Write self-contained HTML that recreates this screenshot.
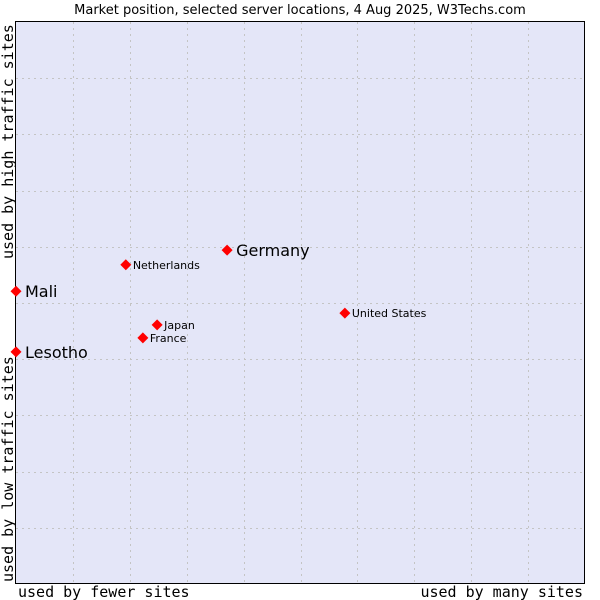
<!DOCTYPE html>
<html><head><meta charset="utf-8"><style>
body{margin:0;background:#fff;width:600px;height:600px;overflow:hidden}
svg{display:block}
</style></head><body>
<svg id="chart" width="600" height="600" xmlns="http://www.w3.org/2000/svg" font-family="DejaVu Sans, Liberation Sans, sans-serif">
<text x="300" y="14" text-anchor="middle" font-size="13" fill="#000">Market position, selected server locations, 4 Aug 2025, W3Techs.com</text>
<rect x="15.5" y="21.5" width="569" height="562" fill="#e4e6f8" stroke="#000" stroke-width="1"/>
<g id="grid"></g>
<g id="points"></g>
<text x="18" y="597" font-family="DejaVu Sans Mono, Liberation Mono, monospace" font-size="15">used by fewer sites</text>
<text x="583" y="597" text-anchor="end" font-family="DejaVu Sans Mono, Liberation Mono, monospace" font-size="15">used by many sites</text>
<text transform="translate(13,582) rotate(-90)" font-family="DejaVu Sans Mono, Liberation Mono, monospace" font-size="15">used by low traffic sites</text>
<text transform="translate(13,259) rotate(-90)" font-family="DejaVu Sans Mono, Liberation Mono, monospace" font-size="15">used by high traffic sites</text>
</svg>
<script>
const countries=["Germany","Netherlands","Mali","United States","Japan","France","Lesotho"];
const xValues=[37.1,19.3,0,57.8,24.8,22.3,0];
const yValues=[59.4,56.8,52.1,48.2,46.1,43.8,41.3];
const bigLabel=[true,false,true,false,false,false,true];
const NS="http://www.w3.org/2000/svg";
const X0=16,X1=585,Y0=584,Y1=22;
const sx=v=>X0+v/100*(X1-X0);
const sy=v=>Y0-v/100*(Y0-Y1);
const grid=document.getElementById('grid');
for(let i=1;i<10;i++){
  const x=Math.round(X0+i*(X1-X0)/10)+0.5;
  const l=document.createElementNS(NS,'line');
  
  
  l.setAttribute('x1',x);l.setAttribute('x2',x);l.setAttribute('y1',Y1);l.setAttribute('y2',Y0);
  l.setAttribute('stroke','#c4c4c4');l.setAttribute('stroke-dasharray','2,4');
  grid.appendChild(l);
  const y=Math.round(Y0-i*(Y0-Y1)/10)+0.5;
  const h=document.createElementNS(NS,'line');
  
  
  h.setAttribute('x1',X0);h.setAttribute('x2',X1);h.setAttribute('y1',y);h.setAttribute('y2',y);
  h.setAttribute('stroke','#c4c4c4');h.setAttribute('stroke-dasharray','2,4');
  grid.appendChild(h);
}
const pts=document.getElementById('points');
countries.forEach((c,i)=>{
  const x=sx(xValues[i]),y=sy(yValues[i]);
  const d=document.createElementNS(NS,'path');
  
  
  d.setAttribute('d',`M${x-5.5},${y}L${x},${y-5.5}L${x+5.5},${y}L${x},${y+5.5}Z`);
  d.setAttribute('fill','#ff0000');
  pts.appendChild(d);
  const t=document.createElementNS(NS,'text');
  
  
  t.setAttribute('x',x+(bigLabel[i]?9:7));
  t.setAttribute('y',y+(bigLabel[i]?6:4));
  t.setAttribute('font-size',bigLabel[i]?16:11);
  t.textContent=c;
  pts.appendChild(t);
});
</script>
</body></html>
